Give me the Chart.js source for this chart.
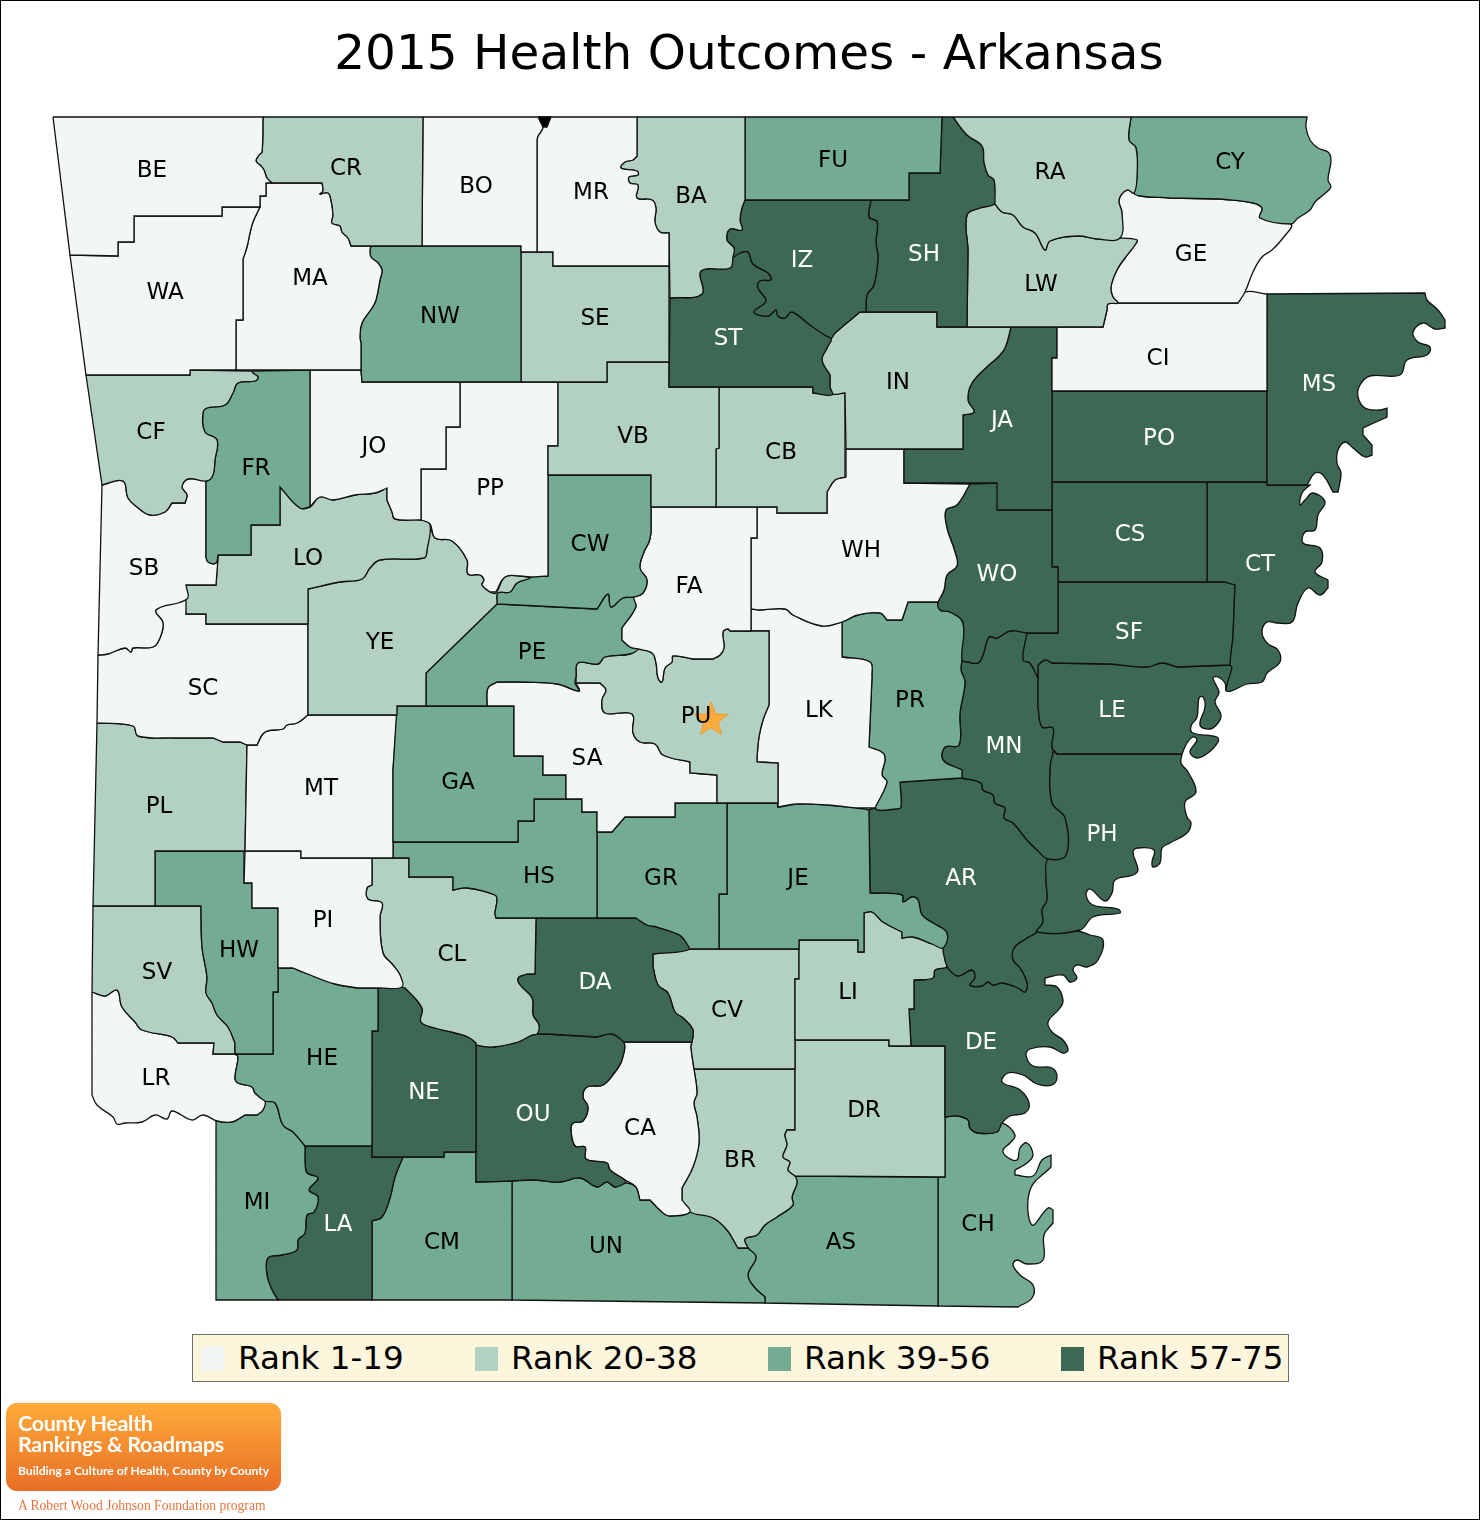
<!DOCTYPE html>
<html>
<head>
<meta charset="utf-8">
<title>2015 Health Outcomes - Arkansas</title>
<script src="https://cdn.jsdelivr.net/npm/chart.js@4"></script>
<style>
  html, body { margin: 0; padding: 0; background: #fff; }
  #page { position: relative; width: 1480px; height: 1520px; overflow: hidden; font-family: "DejaVu Sans", sans-serif; }
  #frame { position: absolute; inset: 0; border: 1px solid #000; box-sizing: border-box; pointer-events: none; }
  #mapCanvas { position: absolute; left: 0; top: 0; }
  #legendBox { position: absolute; left: 192px; top: 1334px; width: 1095px; height: 46px; background: #fdf5dc; border: 1px solid #6e6e6e; }
  .legend-swatch { position: absolute; top: 12px; width: 23px; height: 24px; }
  .legend-text { position: absolute; top: 0; line-height: 47px; font-size: 32.6px; color: #000; white-space: nowrap; }
  #logo { position: absolute; left: 6px; top: 1403px; width: 275px; height: 88px; border-radius: 11px; background: linear-gradient(#fdab3a, #e96f26); color: #fff; font-family: Lato, sans-serif; }
  #logo div { position: absolute; left: 12px; white-space: nowrap; }
  .logo-big { font-size: 21.5px; font-weight: 700; letter-spacing: -0.3px; line-height: 22px; }
  .logo-small { font-size: 12.1px; font-weight: 700; line-height: 16px; }
  #logoFoot { position: absolute; left: 18px; top: 1497px; font: 13.6px "Liberation Serif", serif; line-height: 18px; color: #e8743b; white-space: nowrap; }
</style>
</head>
<body>
<div id="page">
  <canvas id="mapCanvas" width="1480" height="1520"></canvas>
  <div id="frame"></div>
  <div id="legendBox"></div>
  <div id="logo">
    <div class="logo-big" style="top:9px">County Health</div>
    <div class="logo-big" style="top:30px">Rankings &amp; Roadmaps</div>
    <div class="logo-small" style="top:60px">Building a Culture of Health, County by County</div>
  </div>
  <div id="logoFoot">A Robert Wood Johnson Foundation program</div>
</div>
<script>
const TITLE = "2015 Health Outcomes - Arkansas";
const rankLabels = ["Rank 1-19", "Rank 20-38", "Rank 39-56", "Rank 57-75"];
const rankColors = ["#f2f6f5", "#b2d1c2", "#73ac93", "#3d6854"];
const countyCodes = ["BE","CR","BO","MR","BA","FU","RA","CY","WA","MA","NW","SE","IZ","SH","LW","GE","ST","IN","CI","MS","CF","FR","JO","VB","CB","JA","PO","PP","SB","LO","YE","CW","FA","WH","WO","CS","CT","PE","SF","SC","PU","LK","PR","LE","MN","SA","GA","MT","PL","PH","HS","GR","JE","AR","PI","CL","HW","SV","DA","LI","CV","DE","HE","NE","LR","OU","DR","CA","BR","MI","LA","CM","UN","AS","CH"];
const countyRanks = [0,1,0,0,1,2,1,2,0,0,2,1,3,3,1,0,3,1,0,3,1,2,0,1,1,3,3,0,0,1,1,2,0,0,3,3,3,2,3,0,1,0,2,3,3,0,2,0,1,3,2,2,2,3,0,1,2,1,3,1,1,3,2,3,0,3,1,0,1,2,3,2,2,2,2];
const labelX = [152,346,476,591,691,833,1050,1230,165,310,440,595,802,924,1041,1191,728,898,1158,1319,151,256,374,633,781,1002,1159,490,144,308,380,590,689,861,997,1130,1260,532,1129,203,696,819,910,1112,1004,587,458,321,159,1102,539,661,798,961,323,452,239,157,595,848,727,981,322,424,156,533,864,640,740,257,338,442,606,841,978];
const labelY = [169,167,185,191,195,159,171,161,291,277,315,317,259,253,283,253,337,381,357,383,431,467,445,435,451,419,437,487,567,557,641,543,585,549,573,533,563,651,631,687,715,709,699,709,745,757,781,787,805,833,875,877,877,877,919,953,949,971,981,991,1009,1041,1057,1091,1077,1113,1109,1127,1159,1201,1223,1241,1245,1241,1223];
// flat x,y lists, same order as countyCodes
const countyOutlines = [
  [53,117,263,117,262,152,259,155,256,161,261,166,264,170,267,178,272,183,266,183,266,196,260,196,260,207,222,207,222,216,134,216,134,242,118,242,118,256,70,255],
  [263,117,423,117,422,246,351,246,348,238,342,232,340,226,332,223,333,215,331,200,328,193,320,194,323,191,322,183,272,183,267,178,264,170,261,166,256,161,259,155,262,152],
  [423,117,539,117,543,127,538,136,537,140,537,252,521,252,521,246,422,246],
  [539,117,637,117,637,156,633,160,625,162,621,168,637,171,638,175,629,177,630,183,638,185,637,198,652,200,656,208,655,222,660,232,669,233,669,266,553,266,553,252,537,252,537,140,538,136,543,127],
  [637,117,745,117,745,200,742,208,740,220,742,230,730,229,727,240,734,248,733,257,730,268,701,271,702,294,670,298,669,233,660,232,655,222,656,208,652,200,637,198,638,185,630,183,629,177,638,175,637,171,621,168,625,162,633,160,637,156],
  [745,117,942,117,940,173,909,173,909,200,745,200],
  [953,117,1131,117,1129,140,1136,148,1137,177,1134,193,1127,190,1119,200,1122,213,1120,238,1097,239,1078,236,1050,241,1045,250,1035,233,1023,227,1013,215,1002,212,995,204,995,203,994,180,988,175,984,162,982,146,967,135],
  [1131,117,1307,117,1306,127,1310,140,1318,148,1328,152,1331,160,1328,180,1331,187,1323,195,1315,202,1310,210,1298,218,1291,224,1260,218,1262,208,1253,203,1220,199,1170,198,1140,196,1134,193,1137,177,1136,148,1129,140],
  [70,255,118,256,118,242,134,242,134,216,222,216,222,207,260,207,253,222,250,233,247,247,243,259,243,320,236,320,236,370,190,370,190,375,86,375],
  [266,183,272,183,322,183,323,191,320,194,328,193,331,200,333,215,332,223,340,226,342,232,348,238,351,246,371,246,370,250,371,257,378,263,382,270,380,280,376,300,372,308,362,323,360,337,361,343,361,370,236,370,236,320,243,320,243,259,247,247,250,233,253,222,260,207,260,196,266,196],
  [371,246,521,246,521,382,362,382,361,370,361,343,360,337,362,323,372,308,376,300,380,280,382,270,378,263,371,257,370,250],
  [521,252,553,252,553,266,669,266,669,362,607,362,607,382,521,382],
  [745,200,871,200,869,217,877,222,876,243,878,257,874,285,867,295,866,312,860,312,835,333,831,338,810,325,792,312,785,318,778,316,776,310,768,316,754,312,766,301,758,288,760,281,771,280,768,273,753,264,748,252,740,253,733,257,734,248,727,240,730,229,742,230,740,220,742,208],
  [942,117,953,117,967,135,982,146,984,162,988,175,994,180,995,203,980,208,967,215,968,250,967,327,937,327,937,312,866,312,867,295,874,285,878,257,876,243,877,222,869,217,871,200,909,200,909,173,940,173],
  [995,204,1002,212,1013,215,1023,227,1035,233,1045,250,1050,241,1078,236,1097,239,1120,238,1137,240,1135,245,1125,258,1117,270,1111,287,1113,297,1118,303,1108,304,1107,310,1103,327,967,327,968,250,967,215,980,208],
  [1134,193,1140,196,1170,198,1220,199,1253,203,1262,208,1260,218,1291,224,1283,238,1272,250,1262,257,1253,272,1245,292,1238,303,1118,303,1113,297,1111,287,1117,270,1125,258,1135,245,1137,240,1120,238,1122,213,1119,200,1127,190],
  [670,298,702,294,701,271,730,268,733,257,740,253,748,252,753,264,768,273,771,280,760,281,758,288,766,301,754,312,768,316,776,310,778,316,785,318,792,312,810,325,831,338,827,348,822,360,830,375,830,387,832,395,813,393,813,387,669,387],
  [860,312,937,312,937,327,1011,327,1005,348,997,358,990,364,972,383,968,400,974,412,963,415,963,449,846,449,845,393,832,394,830,387,830,375,822,360,827,348,831,338,835,333],
  [1118,303,1238,303,1245,292,1267,294,1267,391,1052,391,1052,358,1057,358,1057,327,1103,327,1107,310,1108,304],
  [1267,294,1425,293,1427,300,1438,310,1445,320,1445,328,1435,329,1423,323,1413,332,1418,342,1430,347,1427,355,1407,360,1400,375,1370,376,1360,385,1358,397,1365,408,1380,410,1387,408,1387,417,1363,428,1363,435,1372,445,1372,455,1365,457,1353,448,1345,442,1338,450,1337,463,1341,473,1338,492,1333,492,1323,475,1315,473,1307,485,1267,485],
  [86,375,190,375,190,370,252,371,253,373,258,377,255,381,238,383,233,393,225,405,207,408,203,413,205,432,217,440,215,460,213,475,207,481,188,479,182,487,187,495,185,503,172,503,165,512,150,515,137,507,128,498,123,481,102,485],
  [252,371,310,370,310,507,300,508,280,487,280,525,251,525,251,555,218,555,216,563,208,562,206,557,206,481,207,481,213,475,215,460,217,440,205,432,203,413,207,408,225,405,233,393,238,383,255,381,258,377,253,373],
  [310,370,361,370,362,382,460,382,460,427,446,427,446,469,421,469,421,520,395,519,392,512,387,500,387,488,375,493,355,495,333,500,320,497,310,507],
  [558,382,607,382,607,362,669,362,669,387,719,387,719,448,716,449,716,507,651,507,651,475,548,475,548,446,558,446],
  [719,387,813,387,813,393,845,393,845,477,835,480,827,492,827,513,777,513,777,507,716,507,716,449,719,448],
  [1011,327,1057,327,1057,358,1052,358,1052,510,997,510,997,483,904,483,904,449,963,449,963,415,974,412,968,400,972,383,990,364,997,358,1005,348],
  [1052,391,1267,391,1267,482,1052,482],
  [460,382,558,382,558,446,548,446,548,576,530,577,520,576,505,577,496,592,490,592,482,585,484,580,480,575,468,574,467,560,452,541,435,538,430,524,421,520,421,469,446,469,446,427,460,427],
  [102,485,123,481,128,498,137,507,150,515,165,512,172,503,185,503,187,495,182,487,188,479,207,481,206,481,206,557,208,562,216,563,218,555,216,585,186,585,187,599,156,610,163,623,160,638,153,647,133,648,131,652,125,648,108,654,98,655],
  [280,487,300,508,310,507,320,497,333,500,355,495,375,493,387,488,387,500,392,512,395,519,421,520,430,524,427,550,424,558,380,560,370,568,362,579,340,582,308,589,308,624,206,624,206,614,186,614,186,585,216,585,218,555,251,555,251,525,280,525],
  [308,589,340,582,362,579,370,568,380,560,424,558,427,550,430,524,435,538,452,541,467,560,468,574,480,575,484,580,482,585,490,592,496,593,505,577,520,576,530,578,517,583,510,592,498,593,497,604,426,673,426,706,397,706,397,715,308,715],
  [548,475,651,475,651,533,649,542,644,552,640,568,647,580,643,593,634,597,623,598,611,607,608,594,597,609,497,604,498,593,510,592,517,583,530,578,530,577,548,576],
  [651,507,757,507,757,538,751,538,751,631,730,631,728,629,723,632,724,648,720,655,713,659,693,659,673,656,672,662,665,668,662,682,658,678,656,663,652,653,638,649,630,647,622,640,622,628,636,607,634,597,643,593,647,580,640,568,644,552,649,542,651,533],
  [757,507,777,507,777,513,827,513,827,492,835,480,846,477,846,449,904,449,904,483,970,484,957,505,946,510,947,528,955,552,957,566,947,575,944,590,938,602,908,602,902,620,887,620,880,613,858,615,842,622,822,626,793,615,785,609,760,610,751,609,751,538,757,538],
  [970,484,998,483,998,510,1052,510,1052,567,1058,567,1058,633,1027,633,1010,631,997,638,989,637,983,655,978,663,968,662,962,660,963,623,950,612,940,610,938,602,944,590,947,575,957,566,955,552,947,528,946,510,957,505],
  [1052,482,1207,482,1207,582,1058,582,1058,567,1052,567],
  [1207,482,1267,482,1267,485,1310,485,1302,493,1300,505,1305,500,1313,493,1325,502,1318,515,1315,530,1305,532,1303,543,1320,548,1322,562,1315,572,1328,580,1328,588,1320,595,1308,588,1298,603,1292,622,1277,623,1267,622,1262,632,1267,643,1278,650,1280,662,1267,673,1262,682,1247,684,1231,691,1226,690,1232,667,1230,665,1233,637,1235,585,1225,582,1207,582],
  [497,604,597,609,608,594,611,607,623,598,634,597,636,607,622,628,622,640,630,647,638,649,630,654,605,657,598,664,578,663,576,677,575,683,579,691,557,684,523,682,497,682,488,688,487,706,426,706,426,673],
  [1058,582,1225,582,1235,585,1233,637,1230,665,1177,667,1162,663,1147,667,1110,664,1052,663,1045,660,1038,665,1038,678,1030,663,1023,660,1027,633,1058,633],
  [98,655,108,654,125,648,131,652,133,648,153,647,160,638,163,623,156,610,187,599,186,614,206,614,206,624,308,624,308,715,297,723,287,725,283,729,267,731,262,735,257,745,247,745,240,742,223,742,213,738,177,738,138,736,133,726,97,723],
  [730,631,769,631,769,705,763,720,759,737,757,757,757,762,778,763,778,803,717,803,717,775,690,773,690,762,663,755,655,744,640,742,633,733,632,714,605,713,602,700,606,690,600,683,576,683,576,677,578,663,598,664,605,657,630,654,638,649,652,653,656,663,658,678,662,682,665,668,672,662,673,656,693,659,713,659,720,655,724,648,723,632,728,629],
  [751,609,760,610,785,609,793,615,822,626,842,622,842,657,870,662,872,677,869,747,883,753,885,760,882,775,887,782,875,808,857,808,827,805,797,804,778,807,778,763,757,762,757,757,759,737,763,720,769,705,769,631,751,631],
  [842,622,858,615,880,613,887,620,902,620,908,602,938,602,940,610,950,612,963,623,962,660,961,670,965,682,960,713,959,745,945,747,943,760,962,770,962,778,900,782,901,807,897,809,875,808,887,782,882,775,885,760,883,753,869,747,872,677,870,662,842,657],
  [1038,665,1045,660,1052,663,1110,664,1147,667,1162,663,1177,667,1230,665,1232,667,1226,690,1225,683,1218,677,1213,678,1217,687,1219,693,1215,702,1221,715,1218,723,1210,729,1200,725,1205,707,1203,697,1199,698,1197,717,1191,726,1193,733,1217,737,1218,742,1208,753,1197,758,1190,752,1197,740,1193,737,1187,743,1182,754,1057,754,1052,747,1053,728,1042,727,1038,707,1038,678],
  [1023,660,1030,663,1038,678,1038,707,1042,727,1053,728,1052,747,1053,752,1050,767,1052,803,1065,818,1066,855,1048,859,1037,850,1027,840,1013,823,1004,818,1005,808,995,803,993,795,983,790,981,783,962,778,962,770,943,760,945,747,959,745,960,713,965,682,961,670,962,660,968,662,978,663,983,655,989,637,997,638,1010,631,1027,633],
  [487,706,488,688,497,682,523,682,557,684,579,691,576,683,600,683,606,690,602,700,605,713,632,714,633,733,640,742,655,744,663,755,690,762,690,773,717,775,717,803,675,803,675,817,625,817,612,832,597,832,597,812,582,812,582,799,566,799,566,775,543,775,543,756,514,756,514,706],
  [397,706,514,706,514,756,543,756,543,775,566,775,566,799,534,799,534,821,518,821,518,842,393,842,393,770],
  [247,745,257,745,262,735,267,731,283,729,287,725,297,723,308,715,397,715,393,770,393,858,301,858,301,851,245,851],
  [97,723,133,726,138,736,177,738,213,738,223,742,240,742,247,745,245,851,155,851,155,906,93,906],
  [1057,754,1182,754,1181,763,1188,772,1196,792,1185,802,1187,817,1191,823,1187,833,1170,843,1162,848,1160,863,1153,867,1152,862,1154,850,1138,848,1133,852,1138,870,1133,875,1115,880,1112,893,1105,901,1090,889,1086,895,1093,905,1118,909,1120,913,1093,917,1080,930,1037,932,1043,922,1042,910,1047,900,1046,880,1048,859,1066,855,1065,818,1052,803,1050,767,1053,752],
  [393,842,518,842,518,821,534,821,534,799,582,799,582,812,597,812,597,918,496,918,495,913,497,900,495,895,467,888,453,890,453,877,409,877,409,858,393,858],
  [597,832,612,832,625,817,675,817,675,803,727,803,727,894,719,894,719,949,690,949,682,937,675,933,657,927,647,925,636,918,597,918],
  [727,803,778,803,778,807,797,804,827,805,857,808,869,810,870,893,902,895,903,902,912,897,918,900,922,915,933,923,947,933,943,948,932,944,913,937,902,938,902,932,883,922,872,912,864,913,864,952,858,952,858,940,799,940,799,949,719,949,719,894,727,894],
  [869,810,875,808,897,809,901,807,900,782,962,778,981,783,983,790,993,795,995,803,1005,808,1004,818,1013,823,1027,840,1037,850,1048,859,1046,880,1047,900,1042,910,1043,922,1037,932,1027,938,1014,948,1013,960,1020,968,1027,983,1025,992,1018,988,1003,983,993,985,988,982,982,986,970,985,975,978,972,970,958,976,948,968,945,960,943,948,947,933,933,923,922,915,918,900,912,897,903,902,902,895,870,893],
  [245,851,301,851,301,858,372,858,372,885,367,888,368,899,382,903,380,917,383,953,393,965,400,975,402,987,378,988,358,988,335,984,305,973,293,968,278,968,278,908,252,908,252,883,244,883],
  [372,858,409,858,409,877,453,877,453,890,467,888,495,895,497,900,495,913,496,918,536,918,535,974,527,974,518,978,520,985,532,998,533,1015,539,1025,537,1034,532,1035,518,1042,493,1047,476,1045,476,1043,468,1037,455,1033,435,1028,421,1022,422,1008,405,988,402,987,400,975,393,965,383,953,380,917,382,903,368,899,367,888,372,885],
  [155,851,244,851,244,883,252,883,252,908,278,908,278,992,273,992,273,1054,235,1054,235,1043,228,1027,217,1015,212,1003,206,993,207,977,202,947,201,906,155,906],
  [93,906,201,906,202,947,207,977,206,993,212,1003,217,1015,228,1027,235,1043,235,1054,213,1054,214,1043,178,1043,172,1037,142,1030,135,1022,122,1007,117,990,105,996,92,992],
  [536,918,636,918,647,925,657,927,675,933,682,937,690,949,653,954,653,967,658,985,668,993,675,1012,683,1018,693,1030,692,1042,624,1042,612,1034,597,1037,547,1034,537,1034,539,1025,533,1015,532,998,520,985,518,978,527,974,535,974],
  [799,940,858,940,858,952,864,952,864,913,872,912,883,922,902,932,902,938,913,937,932,944,943,948,945,960,947,967,935,970,933,978,914,980,914,1009,909,1009,911,1046,889,1046,889,1040,795,1040,795,979,799,979],
  [653,954,690,949,719,949,799,949,799,979,795,979,795,1069,694,1069,691,1047,692,1042,693,1030,683,1018,675,1012,668,993,658,985,653,967],
  [947,967,948,968,958,976,972,970,975,978,970,985,982,986,988,982,993,985,1003,983,1018,988,1025,992,1027,983,1020,968,1013,960,1014,948,1027,938,1037,932,1077,931,1090,935,1103,940,1098,960,1087,967,1077,965,1073,970,1077,978,1070,982,1063,975,1045,978,1045,985,1057,987,1063,1000,1060,1008,1048,1022,1052,1032,1063,1040,1068,1050,1063,1053,1050,1047,1030,1049,1026,1055,1033,1066,1052,1068,1057,1077,1052,1085,1037,1084,1023,1075,1008,1073,1002,1082,1020,1090,1029,1103,1025,1113,1010,1116,1002,1123,997,1132,978,1133,970,1128,968,1120,957,1116,945,1117,945,1046,911,1046,909,1009,914,1009,914,980,933,978,935,970],
  [278,968,293,968,305,973,335,984,358,988,378,988,378,1031,372,1031,372,1146,305,1146,293,1132,283,1125,275,1103,265,1101,255,1093,252,1087,238,1083,235,1078,238,1057,235,1054,273,1054,273,992,278,992],
  [378,988,397,986,405,988,422,1008,421,1022,435,1028,455,1033,468,1037,476,1043,476,1152,444,1152,444,1157,372,1157,372,1031,378,1031],
  [92,992,105,996,117,990,122,1007,135,1022,142,1030,172,1037,178,1043,214,1043,213,1054,235,1054,238,1057,235,1078,238,1083,252,1087,255,1093,265,1101,263,1110,257,1115,245,1115,240,1118,232,1122,217,1121,203,1115,192,1120,172,1111,167,1119,155,1115,142,1122,125,1123,117,1124,113,1117,97,1105,92,1095],
  [476,1045,493,1047,518,1042,532,1035,537,1034,547,1034,597,1037,612,1034,624,1042,622,1060,615,1072,603,1085,587,1087,583,1097,588,1107,583,1121,573,1123,571,1130,575,1146,585,1147,586,1159,607,1163,610,1170,625,1180,625,1183,615,1187,607,1182,597,1187,580,1178,560,1182,533,1180,512,1181,476,1182],
  [795,1040,889,1040,889,1046,945,1046,945,1177,795,1176,788,1170,790,1162,783,1157,787,1145,785,1135,787,1130,795,1130],
  [624,1042,692,1042,691,1047,694,1069,697,1093,694,1103,697,1117,699,1143,693,1167,682,1188,682,1200,690,1212,670,1216,662,1212,650,1200,640,1200,636,1187,625,1180,610,1170,607,1163,586,1159,585,1147,575,1146,571,1130,573,1123,583,1121,588,1107,583,1097,587,1087,603,1085,615,1072,622,1060],
  [694,1069,795,1069,795,1130,787,1130,785,1135,787,1145,783,1157,790,1162,788,1170,795,1176,797,1183,792,1197,793,1205,777,1217,765,1225,757,1235,745,1239,748,1248,738,1248,727,1230,713,1218,690,1212,682,1200,682,1188,693,1167,699,1143,697,1117,694,1103,697,1093],
  [216,1121,232,1122,245,1115,257,1115,263,1110,265,1101,275,1103,283,1125,293,1132,305,1146,305,1163,307,1173,318,1178,309,1190,318,1197,314,1212,307,1215,305,1233,298,1240,297,1250,282,1255,268,1258,267,1275,272,1290,278,1300,216,1300],
  [305,1146,372,1146,372,1157,403,1157,395,1177,390,1198,382,1217,372,1221,372,1300,278,1300,272,1290,267,1275,268,1258,282,1255,297,1250,298,1240,305,1233,307,1215,314,1212,318,1197,309,1190,318,1178,307,1173,305,1163],
  [403,1157,444,1157,444,1152,476,1152,476,1182,512,1181,512,1300,372,1300,372,1221,382,1217,390,1198,395,1177],
  [512,1181,533,1180,560,1182,580,1178,597,1187,607,1182,615,1187,625,1183,636,1187,640,1200,650,1200,662,1212,670,1216,690,1212,713,1218,727,1230,738,1248,748,1248,756,1257,748,1275,755,1288,765,1297,765,1303,512,1300],
  [795,1176,938,1177,938,1306,765,1303,765,1297,755,1288,748,1275,756,1257,748,1248,745,1239,757,1235,765,1225,777,1217,793,1205,792,1197,797,1183],
  [945,1117,957,1116,968,1120,970,1128,978,1133,997,1132,1002,1123,1015,1135,1010,1143,1003,1150,1007,1157,1017,1160,1020,1148,1027,1143,1033,1155,1027,1163,1015,1170,1015,1175,1033,1176,1042,1160,1051,1155,1051,1167,1030,1190,1032,1225,1048,1208,1053,1210,1053,1223,1044,1235,1043,1260,1027,1264,1017,1260,1013,1265,1020,1275,1033,1285,1032,1298,1018,1307,938,1306,938,1177,945,1177]
];
const topSliver = [538,117,551,117,547,127,543,127];
const capitalStar = [{ x: 711, y: 720 }];
// the title block and the left padding are part of the page, so the scales start there
const mapLeft = 18;
const mapTop = 100;
const labelNudge = 2;

function isStraightEdge(a, b) {
  const dx = Math.abs(a.x - b.x);
  const dy = Math.abs(a.y - b.y);
  return Math.hypot(dx, dy) >= 45 || ((dx === 0 || dy === 0) && dx + dy >= 5);
}
// a vertex on a straight edge is listed twice, that keeps the spline from bowing the edge
function toPoints(flat) {
  const raw = [];
  for (let i = 0; i < flat.length; i += 2) raw.push({ x: flat[i], y: flat[i + 1] });
  const points = [];
  raw.forEach((point, i) => {
    const prev = raw[(i - 1 + raw.length) % raw.length];
    const next = raw[(i + 1) % raw.length];
    points.push(point);
    if (isStraightEdge(prev, point) || isStraightEdge(point, next)) points.push({ ...point });
  });
  points.push({ ...raw[0] });
  return points;
}
function starImage() {
  const size = 38;
  const canvas = document.createElement("canvas");
  canvas.width = size;
  canvas.height = size;
  const ctx = canvas.getContext("2d");
  ctx.beginPath();
  for (let i = 0; i < 10; i++) {
    const r = i % 2 ? 7.6 : 18;
    const a = -Math.PI / 2 + (i * Math.PI) / 5;
    ctx.lineTo(size / 2 + r * Math.cos(a), size / 2 + r * Math.sin(a));
  }
  ctx.closePath();
  ctx.fillStyle = "#fbab3b";
  ctx.strokeStyle = "#e8a03c";
  ctx.fill();
  ctx.stroke();
  return canvas;
}
function renderLegend() {
  const box = document.querySelector("#legendBox");
  const swatchLeft = [8, 282, 575, 868];
  const textLeft = [45, 318, 611, 904];
  box.innerHTML = rankLabels.map((label, i) =>
    `<span class="legend-swatch" style="left:${swatchLeft[i]}px;background:${rankColors[i]}"></span><span class="legend-text" style="left:${textLeft[i]}px">${label}</span>`
  ).join("");
}
const countyLabelPlugin = {
  id: "countyLabels",
  afterDatasetsDraw(chart) {
    const { ctx, scales } = chart;
    ctx.save();
    ctx.font = '23px "DejaVu Sans"';
    ctx.textAlign = "center";
    ctx.textBaseline = "middle";
    countyCodes.forEach((code, i) => {
      ctx.fillStyle = countyRanks[i] === 3 ? "#fff" : "#000";
      ctx.fillText(code, scales.x.getPixelForValue(labelX[i]), scales.y.getPixelForValue(labelY[i]) + labelNudge);
    });
    ctx.restore();
  }
};
function renderChart() {
  const outlineBase = { showLine: true, tension: 0.4, pointRadius: 0, borderColor: "#111", borderWidth: 1.3, fill: "shape", clip: false };
  const datasets = [
    { label: "Capital", data: capitalStar, showLine: false, pointStyle: starImage(), pointRadius: 19 },
    { ...outlineBase, label: "Sliver", data: toPoints(topSliver), tension: 0, backgroundColor: "#000" },
    ...countyCodes.map((code, i) => ({ ...outlineBase, label: code, data: toPoints(countyOutlines[i]), backgroundColor: rankColors[countyRanks[i]] }))
  ];
  new Chart(document.querySelector("#mapCanvas"), {
    type: "scatter",
    data: { datasets },
    options: {
      responsive: false,
      devicePixelRatio: 1,
      animation: false,
      layout: { autoPadding: false, padding: { left: mapLeft } },
      plugins: {
        legend: { display: false },
        tooltip: { enabled: false },
        title: { display: true, text: TITLE, color: "#000", font: { family: '"DejaVu Sans"', size: 48.5, weight: "normal" }, padding: { top: 27.3, bottom: 14.5 } }
      },
      scales: {
        x: { display: false, min: mapLeft, max: 1480 },
        y: { display: false, reverse: true, min: mapTop, max: 1520 }
      }
    },
    plugins: [countyLabelPlugin]
  });
}
renderLegend();
renderChart();
</script>
</body>
</html>
